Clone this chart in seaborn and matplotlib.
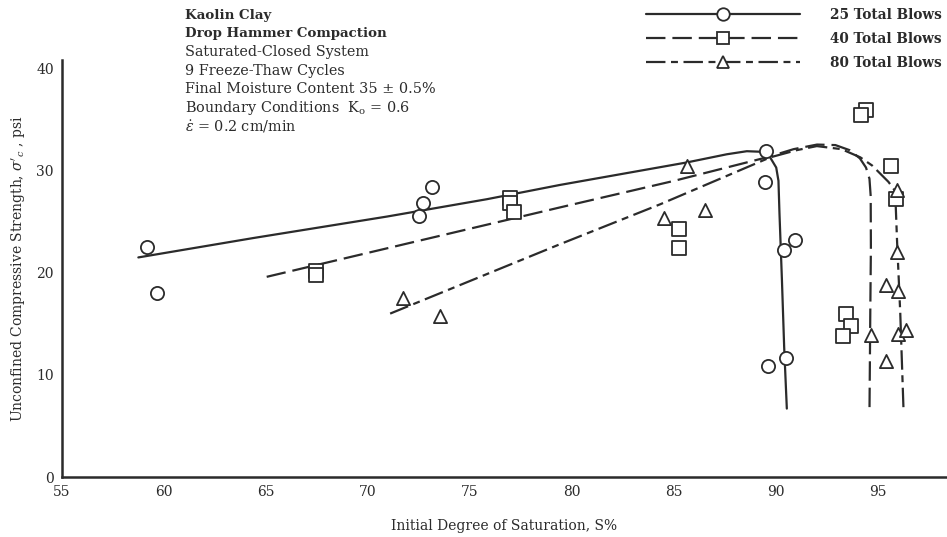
import matplotlib
matplotlib.use("Agg")
import matplotlib.pyplot as plt
import seaborn as sns
import pandas as pd
from matplotlib.lines import Line2D

# ---------------- data ----------------
s25_x = [59.18, 59.67, 72.47, 72.68, 73.12, 89.51, 89.46, 90.9, 90.39, 90.49, 89.58]
s25_y = [22.5, 18.0, 25.6, 26.8, 28.4, 31.9, 28.9, 23.2, 22.2, 11.7, 10.9]

s40_x = [67.43, 67.43, 76.93, 76.93, 77.17, 85.26, 85.26, 94.42, 94.17, 95.64, 95.88, 93.43, 93.68, 93.27]
s40_y = [20.2, 19.8, 27.3, 26.8, 25.9, 24.3, 22.4, 35.9, 35.4, 30.5, 27.2, 16.0, 14.8, 13.8]

s80_x = [71.73, 73.53, 85.62, 84.48, 86.52, 95.9, 95.9, 95.4, 95.95, 94.64, 95.95, 96.37, 95.4]
s80_y = [17.5, 15.8, 30.5, 25.4, 26.1, 28.1, 22.0, 18.8, 18.2, 13.9, 14.0, 14.4, 11.4]

c25_x = [58.74, 64.38, 70.92, 75.82, 79.41, 85.62, 87.58, 88.56, 89.2, 89.7, 90.0, 90.11, 90.16, 90.28, 90.39, 90.52]
c25_y = [21.5, 23.4, 25.5, 27.2, 28.6, 30.8, 31.6, 31.9, 31.85, 31.3, 30.3, 29.0, 25.8, 19.3, 12.7, 6.7]

c40_x = [65.03, 72.0, 79.41, 85.0, 89.54, 90.85, 92.0, 92.9, 93.6, 94.1, 94.4, 94.57, 94.63, 94.64, 94.61, 94.57]
c40_y = [19.6, 22.9, 26.4, 29.0, 31.3, 32.1, 32.55, 32.5, 32.0, 31.2, 30.3, 29.2, 27.5, 22.5, 16.0, 6.2]

c80_x = [71.08, 75.0, 79.41, 84.31, 89.71, 91.0, 91.99, 93.2, 94.12, 94.7, 95.1, 95.5, 95.83, 95.92, 96.08, 96.24]
c80_y = [16.0, 19.2, 22.8, 26.7, 31.3, 32.0, 32.4, 32.1, 31.3, 30.5, 29.7, 28.9, 28.0, 23.2, 16.0, 6.5]

labels = ["25 Total Blows", "40 Total Blows", "80 Total Blows"]
x_ticks = [55, 60, 65, 70, 75, 80, 85, 90, 95]
y_ticks = [0, 10, 20, 30, 40]

# ---------------- style ----------------
sns.set_theme(style="white")
plt.rcParams["font.family"] = ["DejaVu Serif"]
plt.rcParams["mathtext.fontset"] = "dejavuserif"
plt.rcParams["lines.scale_dashes"] = False

ink = "#2b2b2b"
fig = plt.figure(figsize=(9.47, 5.37), dpi=100)
ax = fig.add_axes([0.0655, 0.1117, 0.933, 0.776])

dash40 = (0, (14, 5))
dash80 = (0, (14, 4, 5, 4))

curves = [
    (c25_x, c25_y, "-"),
    (c40_x, c40_y, dash40),
    (c80_x, c80_y, dash80),
]
for cx, cy, ls in curves:
    df = pd.DataFrame({"x": cx, "y": cy})
    sns.lineplot(data=df, x="x", y="y", sort=False, estimator=None, ax=ax,
                 color=ink, lw=1.6, linestyle=ls)

points = [(s25_x, s25_y, "o"), (s40_x, s40_y, "s"), (s80_x, s80_y, "^")]
for px, py, mk in points:
    df = pd.DataFrame({"x": px, "y": py})
    sns.scatterplot(data=df, x="x", y="y", marker=mk, s=90, ax=ax,
                    facecolor="white", edgecolor=ink, linewidth=1.3, zorder=3)

ax.set_xlim(55, 98.3)
ax.set_ylim(0, 40.8)
ax.set_xticks(x_ticks)
ax.set_yticks(y_ticks)
ax.set_xticklabels([str(v) for v in x_ticks])
ax.set_yticklabels([str(v) for v in y_ticks])
ax.tick_params(axis="both", direction="in", length=7, width=1.5, colors=ink,
               labelsize=10, pad=6)
for side in ["top", "right"]:
    ax.spines[side].set_visible(False)
for side in ["left", "bottom"]:
    ax.spines[side].set_color(ink)
    ax.spines[side].set_linewidth(1.8)

ax.set_xlabel("Initial Degree of Saturation, S%", fontsize=10, color=ink, labelpad=14)
ax.set_ylabel(r"Unconfined Compressive Strength, $\sigma'_c$ , psi", fontsize=10,
              color=ink, labelpad=6)

# annotation block
ann = [
    ("Kaolin Clay", "bold", 9.6),
    ("Drop Hammer Compaction", "bold", 9.6),
    ("Saturated-Closed System", "normal", 10.4),
    ("9 Freeze-Thaw Cycles", "normal", 10.4),
    ("Final Moisture Content 35 \u00b1 0.5%", "normal", 10.4),
    (r"Boundary Conditions  K$_\mathrm{o}$ = 0.6", "normal", 10.4),
    (r"$\dot{\varepsilon}$ = 0.2 cm/min", "normal", 10.4),
]
y0 = 1 - 15 / 537
for i, (t, w, fs) in enumerate(ann):
    fig.text(185 / 947, y0 - i * 18.6 / 537, t, fontsize=fs, fontweight=w,
             color=ink, va="center", ha="left")

# legend
handles = [
    Line2D([], [], color=ink, lw=1.6, linestyle="-", marker="o", markersize=9,
           markerfacecolor="white", markeredgecolor=ink, markeredgewidth=1.3),
    Line2D([], [], color=ink, lw=1.6, linestyle=dash40, marker="s", markersize=9,
           markerfacecolor="white", markeredgecolor=ink, markeredgewidth=1.3),
    Line2D([], [], color=ink, lw=1.6, linestyle=dash80, marker="^", markersize=9,
           markerfacecolor="white", markeredgecolor=ink, markeredgewidth=1.3),
]
leg = fig.legend(handles, labels, loc="upper left", bbox_to_anchor=(646 / 947, 1 - 8 / 537),
                 frameon=False, numpoints=1, handlelength=11.3, handletextpad=2.2,
                 labelspacing=0.74, borderpad=0.0, borderaxespad=0.0,
                 prop={"family": "DejaVu Serif", "weight": "bold", "size": 9.8})
for t in leg.get_texts():
    t.set_color(ink)

fig.savefig("out.png", dpi=100)
